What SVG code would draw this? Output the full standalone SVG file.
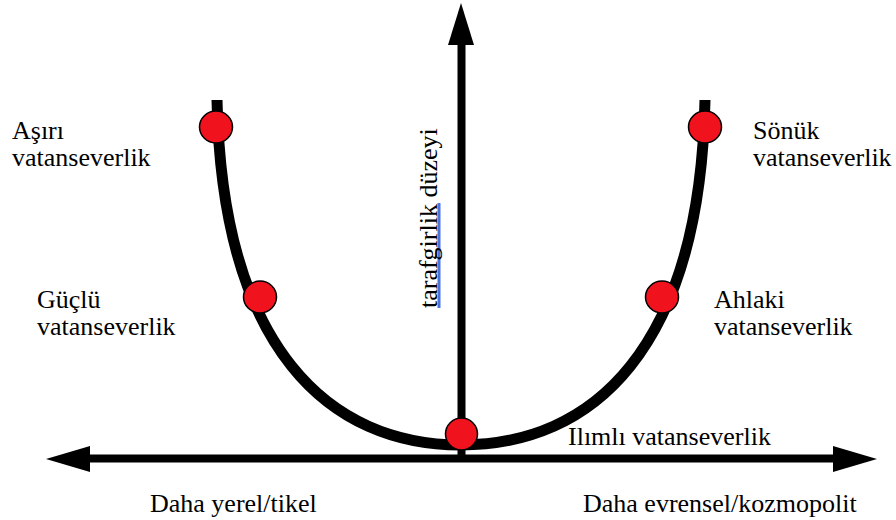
<svg xmlns="http://www.w3.org/2000/svg" width="896" height="520" viewBox="0 0 896 520">
<style>
text{font-family:"Liberation Serif","Times New Roman",serif;font-size:26px;fill:#000}
.dot{fill:#f0121d;stroke:#000;stroke-width:1.5}
.ax{stroke:#000;stroke-width:8;fill:none}
.hd{fill:#000}
</style>
<rect width="896" height="520" fill="#fff"/>
<g id="connectors">
<path class="ax" d="M88 458.5 H836"/>
<polygon class="hd" points="46,459 90,446 90,472"/>
<polygon class="hd" points="877,459 833,446 833,472"/>
<path class="ax" d="M461.5 458 V42"/>
<polygon class="hd" points="461,3 448,45 474,45"/>
<path id="curve" d="M217 100 C222 350 330 445 461 445 C592 445 700 350 705 100" fill="none" stroke="#000" stroke-width="11"/>
</g>
<g id="node-asiri"><ellipse class="dot" cx="216" cy="127" rx="16.5" ry="16"/><text x="12" y="138.5">Aşırı<tspan x="12" dy="27">vatanseverlik</tspan></text></g>
<g id="node-sonuk"><ellipse class="dot" cx="705" cy="127" rx="16.5" ry="16"/><text x="753" y="138.5">Sönük<tspan x="753" dy="27">vatanseverlik</tspan></text></g>
<g id="node-guclu"><ellipse class="dot" cx="260" cy="297" rx="16.5" ry="16"/><text x="37" y="308">Güçlü<tspan x="37" dy="27">vatanseverlik</tspan></text></g>
<g id="node-ahlaki"><ellipse class="dot" cx="662" cy="297" rx="16.5" ry="16"/><text x="714" y="308">Ahlaki<tspan x="714" dy="27">vatanseverlik</tspan></text></g>
<g id="node-ilimli"><ellipse class="dot" cx="461.5" cy="434" rx="16" ry="16"/><text x="568" y="445">Ilımlı vatanseverlik</text></g>
<g id="axis-labels">
<text x="150" y="512">Daha yerel/tikel</text>
<text x="583" y="512">Daha evrensel/kozmopolit</text>
<rect x="437.5" y="203" width="3" height="105" fill="#4a74dc"/>
<text transform="translate(437 308) rotate(-90)">tarafgirlik düzeyi</text>
</g>
</svg>
